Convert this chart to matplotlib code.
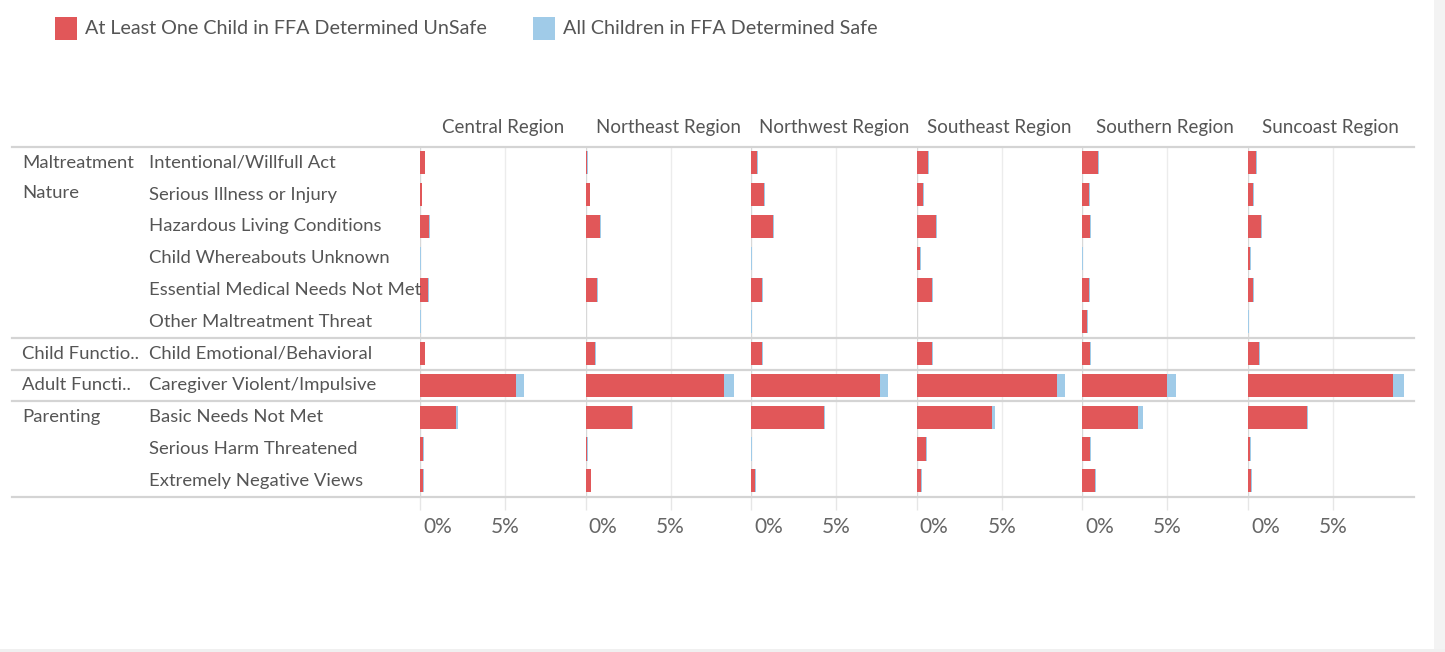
import matplotlib
matplotlib.use("Agg")
import matplotlib.pyplot as plt
from matplotlib.lines import Line2D
from matplotlib.patches import Rectangle

plt.rcParams['font.family'] = ['Lato', 'DejaVu Sans']

# ---------------- data (percent of FFAs) ----------------
regions = ["Central Region", "Northeast Region", "Northwest Region",
           "Southeast Region", "Southern Region", "Suncoast Region"]

groups = ["Maltreatment\nNature", "Child Functio..", "Adult Functi..", "Parenting"]
group_sizes = [6, 1, 1, 3]

subcategories = ["Intentional/Willfull Act", "Serious Illness or Injury",
                 "Hazardous Living Conditions", "Child Whereabouts Unknown",
                 "Essential Medical Needs Not Met", "Other Maltreatment Threat",
                 "Child Emotional/Behavioral", "Caregiver Violent/Impulsive",
                 "Basic Needs Not Met", "Serious Harm Threatened",
                 "Extremely Negative Views"]

unsafe_central   = [0.27, 0.12, 0.53, 0.00, 0.45, 0.00, 0.27, 5.65, 2.14, 0.18, 0.18]
unsafe_northeast = [0.10, 0.24, 0.86, 0.00, 0.67, 0.00, 0.57, 8.16, 2.70, 0.10, 0.29]
unsafe_northwest = [0.35, 0.73, 1.29, 0.00, 0.65, 0.00, 0.65, 7.59, 4.31, 0.00, 0.25]
unsafe_southeast = [0.67, 0.37, 1.12, 0.20, 0.92, 0.00, 0.92, 8.24, 4.41, 0.57, 0.27]
unsafe_southern  = [0.92, 0.37, 0.47, 0.00, 0.37, 0.27, 0.47, 4.96, 3.27, 0.47, 0.73]
unsafe_suncoast  = [0.47, 0.29, 0.76, 0.12, 0.29, 0.00, 0.67, 8.53, 3.47, 0.12, 0.20]

safe_central   = [0.04, 0.02, 0.08, 0.03, 0.06, 0.03, 0.04, 0.47, 0.10, 0.04, 0.04]
safe_northeast = [0.06, 0.03, 0.04, 0.03, 0.06, 0.03, 0.04, 0.55, 0.08, 0.04, 0.04]
safe_northwest = [0.06, 0.06, 0.06, 0.04, 0.06, 0.04, 0.06, 0.45, 0.06, 0.04, 0.04]
safe_southeast = [0.04, 0.04, 0.08, 0.06, 0.06, 0.04, 0.04, 0.47, 0.18, 0.04, 0.04]
safe_southern  = [0.08, 0.06, 0.06, 0.04, 0.06, 0.04, 0.06, 0.55, 0.27, 0.06, 0.06]
safe_suncoast  = [0.06, 0.06, 0.06, 0.04, 0.04, 0.04, 0.04, 0.65, 0.06, 0.04, 0.04]

unsafe = [unsafe_central, unsafe_northeast, unsafe_northwest,
          unsafe_southeast, unsafe_southern, unsafe_suncoast]
safe = [safe_central, safe_northeast, safe_northwest,
        safe_southeast, safe_southern, safe_suncoast]

xticks = [0, 5]
xtick_labels = ["0%", "5%"]
legend_labels = ["At Least One Child in FFA Determined UnSafe",
                 "All Children in FFA Determined Safe"]

# ---------------- style / layout ----------------
RED = "#e15759"
BLUE = "#a0cbe8"
TXT = "#555555"
LINE = "#d4d4d4"

W, H = 1445, 652
fig = plt.figure(figsize=(W / 100, H / 100), dpi=100)
fig.patch.set_facecolor("white")

def fx(px):
    return px / W

def fy(py):
    return 1 - py / H

# right grey strip & bottom strip
fig.patches.append(Rectangle((fx(1434), 0), 1 - fx(1434), 1, transform=fig.transFigure,
                             facecolor="#f3f3f3", edgecolor="none", zorder=0))
fig.patches.append(Rectangle((0, 0), 1, 3 / H, transform=fig.transFigure,
                             facecolor="#f0f0f0", edgecolor="none", zorder=0))

top_px, bot_px = 147.0, 496.7
n_rows = len(subcategories)
row_h = (bot_px - top_px) / n_rows
x0_px = 420.0
panel_w = 165.6
px_per_pct = 17.0
right_px = x0_px + panel_w * len(regions)

for i, reg in enumerate(regions):
    left = x0_px + i * panel_w
    ax = fig.add_axes([fx(left), fy(bot_px), fx(panel_w), (bot_px - top_px) / H])
    ax.set_xlim(0, panel_w / px_per_pct)
    ax.set_ylim(n_rows - 0.5, -0.5)
    ax.patch.set_alpha(0)
    for s in ax.spines.values():
        s.set_visible(False)
    ys = list(range(n_rows))
    ax.barh(ys, unsafe[i], height=0.73, color=RED, zorder=3)
    ax.barh(ys, safe[i], left=unsafe[i], height=0.73, color=BLUE, zorder=3)
    ax.set_xticks(xticks)
    ax.set_xticklabels([])
    ax.tick_params(axis="x", length=9, color="#e6e6e6", width=1, direction="out")
    ax.set_yticks([])
    ax.axvline(0, color="#d8d8d8", lw=1, zorder=1)
    ax.axvline(5, color="#ececec", lw=1, zorder=1)
    # tick labels
    fig.text(fx(left + 3), fy(527), xtick_labels[0], ha="left", va="center",
             fontsize=15, color="#666666")
    fig.text(fx(left + 5 * px_per_pct), fy(527), xtick_labels[1], ha="center",
             va="center", fontsize=15, color="#666666")
    # region header
    fig.text(fx(left + panel_w / 2), fy(127), reg, ha="center", va="center",
             fontsize=13.5, color=TXT)

# horizontal separators
bounds = [0]
for g in group_sizes:
    bounds.append(bounds[-1] + g)
for b in bounds:
    y = top_px + b * row_h
    fig.add_artist(Line2D([fx(12), fx(right_px)], [fy(y), fy(y)], color=LINE,
                          lw=1.6, transform=fig.transFigure, zorder=5))

# row labels
for r, lab in enumerate(subcategories):
    fig.text(fx(149), fy(top_px + (r + 0.5) * row_h), lab, ha="left", va="center",
             fontsize=13.3, color=TXT)

for g, (name, start) in enumerate(zip(groups, bounds[:-1])):
    for k, line in enumerate(name.split("\n")):
        fig.text(fx(22), fy(top_px + (start + k + 0.5) * row_h - 2 * k), line,
                 ha="left", va="center", fontsize=13.3, color=TXT)

# legend
fig.patches.append(Rectangle((fx(55), fy(40)), fx(22), 23 / H, transform=fig.transFigure,
                             facecolor=RED, edgecolor="none"))
fig.text(fx(85), fy(28), legend_labels[0], ha="left", va="center", fontsize=14.2, color=TXT)
fig.patches.append(Rectangle((fx(533), fy(40)), fx(22), 23 / H, transform=fig.transFigure,
                             facecolor=BLUE, edgecolor="none"))
fig.text(fx(563), fy(28), legend_labels[1], ha="left", va="center", fontsize=14.2, color=TXT)

fig.savefig("out.png", dpi=100, facecolor="white")
